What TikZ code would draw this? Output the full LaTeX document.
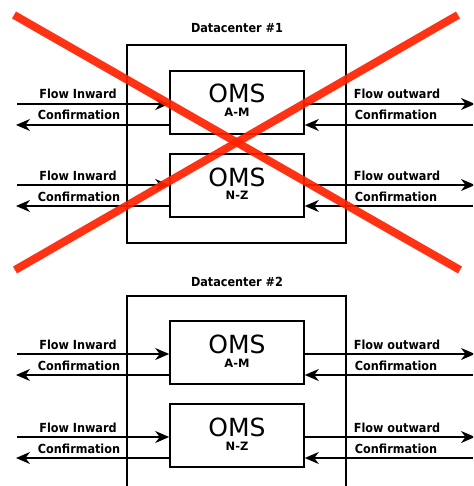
\documentclass[tikz,border=0pt]{standalone}
\usepackage{fontspec}
\setmainfont{DejaVu Sans}
\newfontfamily\lblfont{DejaVu Sans Condensed Bold}
\usetikzlibrary{arrows.meta}
\definecolor{crossred}{RGB}{255,34,0}
\tikzset{
  dcbox/.style={draw, line width=1.2pt, minimum width=219pt, inner sep=0pt},
  omsbox/.style={draw, line width=1.6pt, minimum width=134pt, minimum height=63pt, inner sep=0pt},
  flow/.style={line width=1.5pt, -{Stealth[length=14pt,width=12pt,inset=4.5pt]}},
  lbl/.style={font=\lblfont\fontsize{12.5}{14}\selectfont, anchor=base, inner sep=0pt},
  title/.style={font=\lblfont\fontsize{12.5}{14}\selectfont, anchor=base, inner sep=0pt},
  big/.style={font=\fontsize{25}{28}\selectfont, anchor=base, inner sep=0pt},
  small/.style={font=\bfseries\fontsize{11.5}{13}\selectfont, anchor=base, inner sep=0pt},
  cross/.style={draw=crossred, line width=8pt, opacity=0.92}
}
\begin{document}
\begin{tikzpicture}[x=1pt,y=-1pt]
\useasboundingbox (0,0) rectangle (473,486);
\clip (0,0) rectangle (473,486);
\fill[white] (0,0) rectangle (473,486);

% ---------- Datacenter #1 ----------
\node[title] (t1) at (237,33) {Datacenter \#1};
\node[dcbox, minimum height=198pt] (dc1) at (236.5,144) {};
\node[omsbox] (a1) at (237,102.5) {};
\node[big] (a1o) at (237,103) {OMS};
\node[small] (a1r) at (237,117) {A-M};
\node[omsbox] (n1) at (237,185.5) {};
\node[big] (n1o) at (237,186) {OMS};
\node[small] (n1r) at (237,200) {N-Z};

\coordinate (a1inL) at (17,104);
\coordinate (a1cfL) at (16,125);
\coordinate (a1outR) at (475,104);
\coordinate (a1cfR) at (473,125);
\draw[flow] (a1inL) -- (a1.west |- a1inL);
\draw[flow] (a1.west |- a1cfL) -- (a1cfL);
\draw[flow] (a1.east |- a1outR) -- (a1outR);
\draw[flow] (a1cfR) -- (a1.east |- a1cfR);
\node[lbl] (l1) at (78,99) {Flow Inward};
\node[lbl] (l2) at (79,120) {Confirmation};
\node[lbl] (l3) at (397,99) {Flow outward};
\node[lbl] (l4) at (396,120) {Confirmation};

\coordinate (n1inL) at (17,185);
\coordinate (n1cfL) at (16,206);
\coordinate (n1outR) at (475,185);
\coordinate (n1cfR) at (473,206);
\draw[flow] (n1inL) -- (n1.west |- n1inL);
\draw[flow] (n1.west |- n1cfL) -- (n1cfL);
\draw[flow] (n1.east |- n1outR) -- (n1outR);
\draw[flow] (n1cfR) -- (n1.east |- n1cfR);
\node[lbl] (l5) at (78,180) {Flow Inward};
\node[lbl] (l6) at (79,201) {Confirmation};
\node[lbl] (l7) at (397,180) {Flow outward};
\node[lbl] (l8) at (396,201) {Confirmation};

% ---------- Datacenter #2 ----------
\node[title] (t2) at (237,286) {Datacenter \#2};
\node[dcbox, minimum height=240pt] (dc2) at (236.5,416) {};
\node[omsbox] (a2) at (237,352.5) {};
\node[big] (a2o) at (237,353) {OMS};
\node[small] (a2r) at (237,367) {A-M};
\node[omsbox] (n2) at (237,435.5) {};
\node[big] (n2o) at (237,436) {OMS};
\node[small] (n2r) at (237,450) {N-Z};

\coordinate (a2inL) at (17,354);
\coordinate (a2cfL) at (16,375);
\coordinate (a2outR) at (475,354);
\coordinate (a2cfR) at (473,375);
\draw[flow] (a2inL) -- (a2.west |- a2inL);
\draw[flow] (a2.west |- a2cfL) -- (a2cfL);
\draw[flow] (a2.east |- a2outR) -- (a2outR);
\draw[flow] (a2cfR) -- (a2.east |- a2cfR);
\node[lbl] (m1) at (78,349) {Flow Inward};
\node[lbl] (m2) at (79,370) {Confirmation};
\node[lbl] (m3) at (397,349) {Flow outward};
\node[lbl] (m4) at (396,370) {Confirmation};

\coordinate (n2inL) at (17,437);
\coordinate (n2cfL) at (16,458);
\coordinate (n2outR) at (475,437);
\coordinate (n2cfR) at (473,458);
\draw[flow] (n2inL) -- (n2.west |- n2inL);
\draw[flow] (n2.west |- n2cfL) -- (n2cfL);
\draw[flow] (n2.east |- n2outR) -- (n2outR);
\draw[flow] (n2cfR) -- (n2.east |- n2cfR);
\node[lbl] (m5) at (78,432) {Flow Inward};
\node[lbl] (m6) at (79,453) {Confirmation};
\node[lbl] (m7) at (397,432) {Flow outward};
\node[lbl] (m8) at (396,453) {Confirmation};

% ---------- red cross over datacenter #1 ----------
\coordinate (xa) at (14,15);
\coordinate (xb) at (460,270);
\coordinate (xc) at (15,270);
\coordinate (xd) at (458,15);
\draw[cross] (xa) -- (xb);
\draw[cross] (xc) -- (xd);
\end{tikzpicture}
\end{document}
